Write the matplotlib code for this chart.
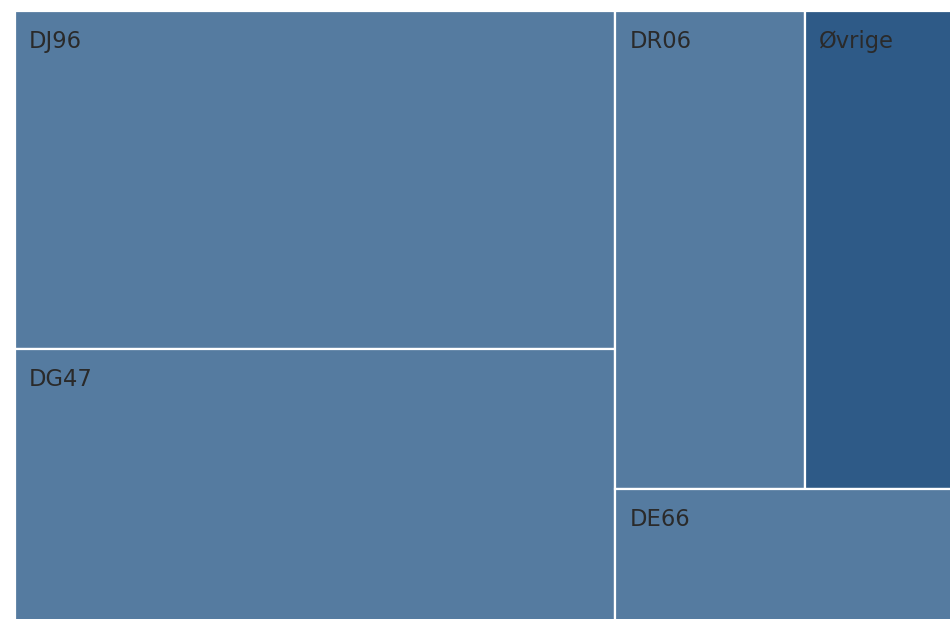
import matplotlib
matplotlib.use("Agg")
import matplotlib.pyplot as plt
from matplotlib.patches import Rectangle

# --- Data (share of treemap area, %) ---
labels = ["DJ96", "DG47", "DR06", "Øvrige", "DE66"]
shares = [35.40, 28.59, 15.80, 12.38, 7.84]
colors = ["#557ba0", "#557ba0", "#557ba0", "#2e5a87", "#557ba0"]

# rows of the squarified layout (indices into labels)
rows = [[0, 1], [2, 3], [4]]

# --- Figure ---
W, H = 950, 619
fig = plt.figure(figsize=(W / 100, H / 100), dpi=100)
ax = fig.add_axes([0, 0, 1, 1])
ax.set_xlim(0, W)
ax.set_ylim(H, 0)
ax.axis("off")


def layout(values, rows, x0, y0, x1, y1):
    rects = {}
    remaining = sum(values)
    for row in rows:
        dx, dy = x1 - x0, y1 - y0
        row_sum = sum(values[i] for i in row)
        if dx >= dy:
            # column on the left, items stacked vertically
            w = dx * row_sum / remaining
            y = y0
            for i in row:
                h = dy * values[i] / row_sum
                rects[i] = (x0, y, w, h)
                y += h
            x0 += w
        else:
            # band at the top, items side by side
            h = dy * row_sum / remaining
            x = x0
            for i in row:
                w = dx * values[i] / row_sum
                rects[i] = (x, y0, w, h)
                x += w
            y0 += h
        remaining -= row_sum
    return rects


# the treemap runs past the right and bottom edge of the picture
rects = layout(shares, rows, 14.5, 11, W + 3, H + 3)

for i, lab in enumerate(labels):
    x, y, w, h = rects[i]
    ax.add_patch(Rectangle((x, y), w, h, facecolor=colors[i],
                           edgecolor="white", linewidth=1.6))
    ax.text(x + 14.5, y + 37, lab, fontsize=16.3, color="#2a2a2a",
            family="DejaVu Sans", ha="left", va="baseline")

fig.savefig("out.png", dpi=100)
